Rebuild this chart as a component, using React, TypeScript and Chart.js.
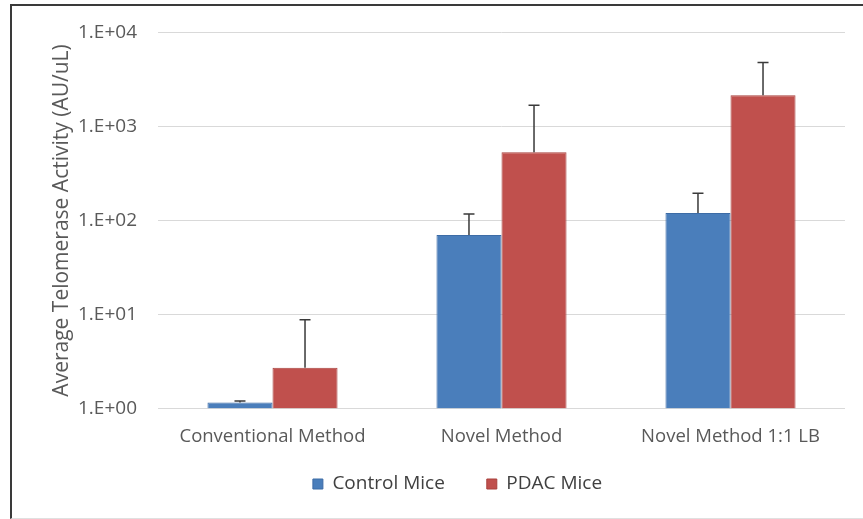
import React, { useEffect, useRef } from "react";
import { Chart, registerables } from "chart.js";

Chart.register(...registerables);

const categories = ["Conventional Method", "Novel Method", "Novel Method 1:1 LB"];
const seriesNames = ["Control Mice", "PDAC Mice"];
const controlValues = [1.16, 70, 120];
const pdacValues = [2.72, 531, 2140];
const controlErrorTops = [1.2, 117, 195];
const pdacErrorTops = [8.8, 1675, 4790];
const yTickValues = [1, 10, 100, 1000, 10000];
const yTickLabels = ["1.E+00", "1.E+01", "1.E+02", "1.E+03", "1.E+04"];
const yTitle = "Average Telomerase Activity (AU/uL)";

const FONT = "'Open Sans', 'Liberation Sans', sans-serif";

const errorTops = [controlErrorTops, pdacErrorTops];

const errorBarPlugin = {
  id: "errorBars",
  afterDatasetsDraw(chart: any) {
    const ctx = chart.ctx;
    const y = chart.scales.y;
    ctx.save();
    ctx.strokeStyle = "#3a3a3a";
    ctx.lineWidth = 1.5;
    chart.data.datasets.forEach((ds: any, di: number) => {
      const meta = chart.getDatasetMeta(di);
      meta.data.forEach((bar: any, i: number) => {
        const top = y.getPixelForValue(errorTops[di][i]);
        const base = y.getPixelForValue(ds.data[i]);
        const x = bar.x;
        ctx.beginPath();
        ctx.moveTo(x, base);
        ctx.lineTo(x, top);
        ctx.moveTo(x - 5.5, top);
        ctx.lineTo(x + 5.5, top);
        ctx.stroke();
      });
    });
    ctx.restore();
  },
};

const legendPlacePlugin = {
  id: "legendPlace",
  afterLayout(chart: any) {
    const lg = chart.legend;
    if (!lg) return;
    const h = lg.bottom - lg.top;
    lg.top = 432.5;
    lg.bottom = lg.top + h;
    lg.left += 35;
    lg.right += 35;
  },
};

export default function App() {
  const ref = useRef<HTMLCanvasElement>(null);
  useEffect(() => {
    if (!ref.current) return;
    const chart = new Chart(ref.current, {
      type: "bar",
      data: {
        labels: categories,
        datasets: [
          {
            label: seriesNames[0],
            data: controlValues,
            backgroundColor: "#4a7ebb",
            borderColor: "#3d6ca6",
            borderWidth: 1,
          },
          {
            label: seriesNames[1],
            data: pdacValues,
            backgroundColor: "#c0504d",
            borderColor: "#a8403d",
            borderWidth: 1,
          },
        ],
      },
      options: {
        animation: false,
        responsive: false,
        maintainAspectRatio: false,
        layout: { padding: { top: 31, right: 18, left: 0, bottom: 0 } },
        datasets: { bar: { categoryPercentage: 0.568, barPercentage: 1 } },
        scales: {
          x: {
            grid: { display: false, drawTicks: false },
            border: { display: false },
            ticks: { color: "#595959", font: { family: FONT, size: 18.5 }, padding: 17 },
            afterFit: (s: any) => {
              s.height = 39.5;
            },
          },
          y: {
            type: "logarithmic",
            min: 1,
            max: 10000,
            grid: { color: "#d9d9d9", lineWidth: 1, drawTicks: false },
            border: { display: false },
            afterBuildTicks: (s: any) => {
              s.ticks = yTickValues.map((v) => ({ value: v }));
            },
            ticks: {
              color: "#595959",
              font: { family: FONT, size: 19 },
              padding: 21,
              callback: (v: any) => {
                const i = yTickValues.indexOf(Number(v));
                return i >= 0 ? yTickLabels[i] : "";
              },
            },
            title: {
              display: true,
              text: yTitle,
              color: "#595959",
              font: { family: FONT, size: 21, weight: "normal" },
              padding: { top: 49, bottom: 0 },
            },
            afterFit: (s: any) => {
              s.width = 158;
            },
          },
        },
        plugins: {
          legend: {
            position: "bottom",
            labels: {
              boxWidth: 10,
              boxHeight: 10,
              padding: 42,
              color: "#404040",
              font: { family: FONT, size: 19 },
            },
          },
          tooltip: { enabled: false },
        },
      } as any,
      plugins: [errorBarPlugin, legendPlacePlugin],
    });
    return () => chart.destroy();
  }, []);

  return (
    <div style={{ position: "fixed", left: 0, top: 0, width: 863, height: 519, background: "#fff", overflow: "hidden" }}>
      <canvas ref={ref} width={863} height={519} style={{ position: "absolute", left: 0, top: 0, width: 863, height: 519 }} />
      <div
        style={{
          position: "absolute",
          left: 10,
          top: 4,
          width: 900,
          height: 512,
          borderTop: "2px solid #3a3a3a",
          borderLeft: "2px solid #3a3a3a",
          borderBottom: "1px solid #e0e0e0",
          pointerEvents: "none",
        }}
      />
    </div>
  );
}
